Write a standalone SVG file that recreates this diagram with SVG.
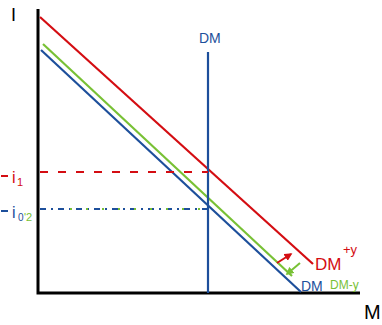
<svg xmlns="http://www.w3.org/2000/svg" width="382" height="325" viewBox="0 0 382 325">
<style>
text{font-family:"Liberation Sans",Arial,sans-serif}
.red{stroke:#d40d12;fill:none}
.grn{stroke:#78c135;fill:none}
.blu{stroke:#1d4f9b;fill:none}
.ax{stroke:#000;stroke-width:3;fill:none}
</style>
<defs>
<marker id="ar" viewBox="0 0 10 10" refX="8" refY="5" markerWidth="4" markerHeight="4" orient="auto"><path d="M0,0 L10,5 L0,10 z" fill="#d40d12"/></marker>
<marker id="ag" viewBox="0 0 10 10" refX="8" refY="5" markerWidth="4" markerHeight="4" orient="auto"><path d="M0,0 L10,5 L0,10 z" fill="#78c135"/></marker>
</defs>
<rect width="382" height="325" fill="#fff"/>
<g id="axes">
<path class="ax" d="M38,9 V293 H360"/>
<text x="11" y="21" font-size="18">I</text>
<text x="364" y="319" font-size="20">M</text>
</g>
<g id="connectors">
<path class="red" stroke-width="2.2" d="M40,17 L313,264"/>
<path class="grn" stroke-width="2.2" d="M43,44 L292,276"/>
<path class="blu" stroke-width="2.2" d="M41,50 L301,292"/>
<path class="blu" stroke-width="2.2" d="M208,52 V293"/>
<path class="red" stroke-width="2" stroke-dasharray="8,10" d="M40,172 H208"/>
<path class="blu" stroke-width="2" stroke-dasharray="6,5,2,5" d="M40,209 H208"/>
<path class="grn" stroke-width="2" stroke-dasharray="2,14" d="M70,209 H200"/>
<path class="red" stroke-width="2" d="M277,263 L291,254" marker-end="url(#ar)"/>
<path class="grn" stroke-width="2" d="M300,263 L287,274" marker-end="url(#ag)"/>
</g>
<g id="labels">
<text x="199" y="43" font-size="14" fill="#1d4f9b">DM</text>
<path class="red" stroke-width="2" d="M1,176 H8"/>
<text x="12" y="183" font-size="16" fill="#d40d12">i</text>
<text x="17" y="186" font-size="11" fill="#d40d12">1</text>
<path class="blu" stroke-width="2" d="M1,211 H8"/>
<text x="12" y="218" font-size="16" fill="#1d4f9b">i</text>
<text x="18" y="221" font-size="10" fill="#1d4f9b">0</text>
<text x="24" y="221" font-size="11" fill="#78c135">'2</text>
<text x="315" y="270" font-size="17" fill="#d40d12">DM</text>
<text x="343" y="254" font-size="13" fill="#d40d12">+y</text>
<text x="301" y="291" font-size="14" fill="#1d4f9b">DM</text>
<text x="330" y="289" font-size="12" fill="#78c135">DM-y</text>
</g>
</svg>
